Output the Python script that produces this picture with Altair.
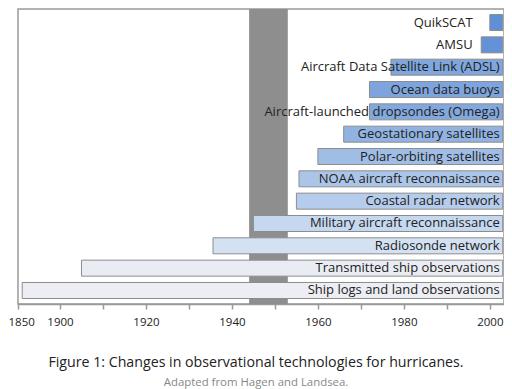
import altair as alt
import pandas as pd

categories = [
    "QuikSCAT",
    "AMSU",
    "Aircraft Data Satellite Link (ADSL)",
    "Ocean data buoys",
    "Aircraft-launched dropsondes (Omega)",
    "Geostationary satellites",
    "Polar-orbiting satellites",
    "NOAA aircraft reconnaissance",
    "Coastal radar network",
    "Military aircraft reconnaissance",
    "Radiosonde network",
    "Transmitted ship observations",
    "Ship logs and land observations",
]
start_years = [2000, 1998, 1977, 1972, 1972, 1966, 1960, 1955.6, 1955, 1945, 1935.6, 1905, 1855]
end_year = 2003
label_outside = [True, True] + [False] * 11
bar_colors = [
    "#5f8fd5", "#6592d6", "#7fa6dd", "#7da4dc", "#82a8de", "#91b3e2", "#a0bde6",
    "#abc5e9", "#b5ccec", "#c6d8f0", "#d3e1f3", "#e9edf3", "#eceef3",
]
band_start = [1944]
band_end = [1953]
tick_values = [1850, 1900, 1910, 1920, 1930, 1940, 1950, 1960, 1970, 1980, 1990, 2000]
label_values = [1850, 1900, 1920, 1940, 1960, 1980, 2000]

df = pd.DataFrame({
    "name": categories,
    "start": start_years,
    "end": [end_year] * len(categories),
    "outside": label_outside,
})
band = pd.DataFrame({"s": band_start, "e": band_end})

FONT = "Open Sans"
xscale = alt.Scale(domain=[1850, 1900, 2003.3], range=[0, 42, 486], nice=False, zero=False)
xaxis = alt.Axis(
    values=tick_values,
    format="d",
    labelExpr="indexof(" + str(label_values) + ", datum.value) >= 0 ? datum.label : ''",
    title=None, grid=False, tickSize=5, tickColor="#999", tickWidth=1.5,
    domainColor="#999", domainWidth=1.5,
    labelFont=FONT, labelFontSize=11.5, labelColor="#222", labelPadding=7,
    labelFlush=True, labelFlushOffset=10, labelOverlap=False,
)
yenc = alt.Y("name:N", sort=categories, axis=None,
             scale=alt.Scale(paddingInner=0.283, paddingOuter=0.247))

band_layer = alt.Chart(band).mark_rect(color="#8e8e8e").encode(
    x=alt.X("s:Q", scale=xscale, axis=xaxis), x2="e:Q"
)
bars = alt.Chart(df).mark_bar(stroke="#8c8c8c", strokeWidth=1).encode(
    x=alt.X("start:Q", scale=xscale, axis=xaxis),
    x2="end:Q",
    y=yenc,
    color=alt.Color("name:N", scale=alt.Scale(domain=categories, range=bar_colors), legend=None),
)
labels = alt.Chart(df).transform_calculate(
    lx="datum.outside ? 1996 : 2002.3"
).mark_text(align="right", baseline="middle", font=FONT, fontSize=13, color="#222").encode(
    x=alt.X("lx:Q", scale=xscale, axis=xaxis),
    y=yenc,
    text="name:N",
)

chart = alt.layer(band_layer, bars, labels).properties(
    width=486, height=295,
    autosize=alt.AutoSizeParams(type="none"),
    padding={"left": 10, "top": 1, "right": 0, "bottom": 85},
    background="white",
    title=alt.TitleParams(
        text="Figure 1: Changes in observational technologies for hurricanes.",
        subtitle="Adapted from Hagen and Landsea.",
        orient="bottom", anchor="middle", frame="bounds",
        font=FONT, fontSize=14.2, fontWeight="normal", color="#222",
        subtitleFont=FONT, subtitleFontSize=11.4, subtitleColor="#888",
        offset=28, subtitlePadding=7,
    ),
).configure_view(stroke="#999", strokeWidth=1.5)

chart.save("out.html", embed_options={"renderer": "svg", "actions": False})
